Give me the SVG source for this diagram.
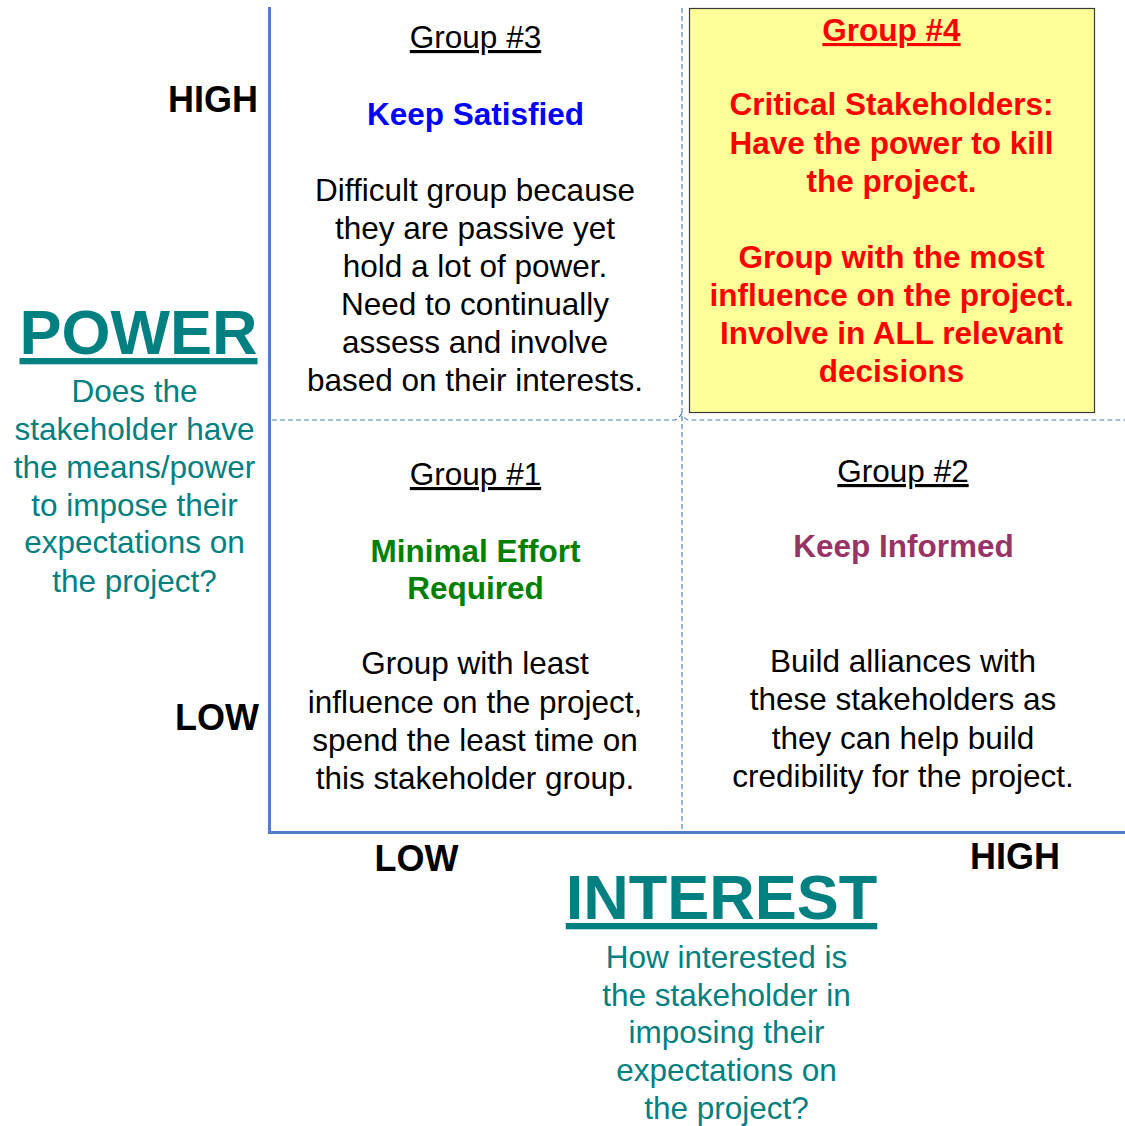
<svg xmlns="http://www.w3.org/2000/svg" width="1125" height="1126" viewBox="0 0 1125 1126">
  <style>
    text { font-family: "Liberation Sans", Arial, sans-serif; text-anchor: middle; }
    .body { font-size: 31.5px; fill: #000; }
    .head { font-size: 31.5px; fill: #000; text-decoration: underline; }
    .bold { font-weight: bold; font-size: 31.5px; }
    .axislbl { font-weight: bold; font-size: 36px; fill: #000; }
    .big { font-weight: bold; font-size: 63px; fill: #008080; text-decoration: underline; }
    .teal { font-size: 31.5px; fill: #008080; }
    .red { fill: #ff0000; font-weight: bold; font-size: 31.5px; }
    .grid { fill: none; stroke: #4f81bd; stroke-width: 1.2; stroke-dasharray: 5 3; }
    .axis { fill: none; stroke: #4f7fc6; stroke-width: 3; }
  </style>
  <rect width="1125" height="1126" fill="#fff"/>

  <!-- quadrant grid and axes -->
  <g id="connectors">
    <path class="grid" d="M682 8 V830"/>
    <path class="grid" d="M272 420 H675 Q679 418 681.5 414 Q684 418 688 420 H1125"/>
    <path class="axis" d="M269.5 7 V832.5 H1125"/>
  </g>

  <!-- Group #4 : high power / high interest -->
  <g id="group4">
    <rect x="689.5" y="8.5" width="405" height="404" fill="#ffff99" stroke="#3a3a3a" stroke-width="1.2"/>
    <text class="red" x="891.5" y="41" text-decoration="underline">Group #4</text>
    <text class="red" x="891.5" y="115">Critical Stakeholders:</text>
    <text class="red" x="891.5" y="153.5">Have the power to kill</text>
    <text class="red" x="891.5" y="192">the project.</text>
    <text class="red" x="891.5" y="268">Group with the most</text>
    <text class="red" x="891.5" y="306">influence on the project.</text>
    <text class="red" x="891.5" y="344">Involve in ALL relevant</text>
    <text class="red" x="891.5" y="382">decisions</text>
  </g>

  <!-- Group #3 : high power / low interest -->
  <g id="group3">
    <text class="head" x="475.5" y="48">Group #3</text>
    <text class="bold" x="475.5" y="125" fill="#0000ff">Keep Satisfied</text>
    <text class="body" x="475" y="201">Difficult group because</text>
    <text class="body" x="475" y="239">they are passive yet</text>
    <text class="body" x="475" y="277">hold a lot of power.</text>
    <text class="body" x="475" y="315">Need to continually</text>
    <text class="body" x="475" y="353">assess and involve</text>
    <text class="body" x="475" y="391">based on their interests.</text>
  </g>

  <!-- Group #1 : low power / low interest -->
  <g id="group1">
    <text class="head" x="475.5" y="485">Group #1</text>
    <text class="bold" x="475.5" y="561.5" fill="#008000">Minimal Effort</text>
    <text class="bold" x="475.5" y="599" fill="#008000">Required</text>
    <text class="body" x="475" y="674">Group with least</text>
    <text class="body" x="475" y="712.5">influence on the project,</text>
    <text class="body" x="475" y="750.5">spend the least time on</text>
    <text class="body" x="475" y="788.5">this stakeholder group.</text>
  </g>

  <!-- Group #2 : low power / high interest -->
  <g id="group2">
    <text class="head" x="903" y="482">Group #2</text>
    <text class="bold" x="903.5" y="557" fill="#993366">Keep Informed</text>
    <text class="body" x="903" y="672">Build alliances with</text>
    <text class="body" x="903" y="710">these stakeholders as</text>
    <text class="body" x="903" y="748.5">they can help build</text>
    <text class="body" x="903" y="787">credibility for the project.</text>
  </g>

  <!-- vertical axis: power -->
  <g id="power-axis">
    <text class="axislbl" x="258" y="111.5" text-anchor="end" style="text-anchor:end">HIGH</text>
    <text class="axislbl" x="259" y="729.5" style="text-anchor:end">LOW</text>
    <text class="big" x="138.5" y="354">POWER</text>
    <text class="teal" x="134.5" y="401.5">Does the</text>
    <text class="teal" x="134.5" y="439.5">stakeholder have</text>
    <text class="teal" x="134.5" y="477.5">the means/power</text>
    <text class="teal" x="134.5" y="515.5">to impose their</text>
    <text class="teal" x="134.5" y="553">expectations on</text>
    <text class="teal" x="134.5" y="591.5">the project?</text>
  </g>

  <!-- horizontal axis: interest -->
  <g id="interest-axis">
    <text class="axislbl" x="416.5" y="870.5">LOW</text>
    <text class="axislbl" x="1015" y="869">HIGH</text>
    <text class="big" x="721.5" y="919">INTEREST</text>
    <text class="teal" x="726.5" y="968">How interested is</text>
    <text class="teal" x="726.5" y="1005.5">the stakeholder in</text>
    <text class="teal" x="726.5" y="1043">imposing their</text>
    <text class="teal" x="726.5" y="1081">expectations on</text>
    <text class="teal" x="726.5" y="1118.5">the project?</text>
  </g>
</svg>
